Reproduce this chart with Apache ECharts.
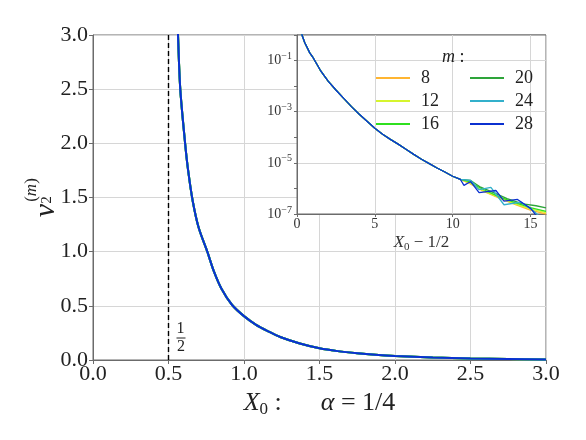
<!DOCTYPE html>
<html>
<head>
<meta charset="utf-8">
<script src="https://cdn.jsdelivr.net/npm/echarts@6/dist/echarts.min.js"></script>
<style>html,body{margin:0;padding:0;background:#fff}#c{width:586px;height:440px}</style>
</head>
<body>
<div id="c"></div>
<script>
// ---- data ----
const mValues = ['8', '12', '16', '20', '24', '28'];

// main panel: nu_2^(m) versus X0 (all m overlap)
const mainX = [0.545, 0.563, 0.578, 0.61, 0.63, 0.66, 0.70, 0.757, 0.80, 0.85, 0.92, 1.0, 1.08, 1.16, 1.24, 1.37, 1.5, 1.62, 1.75, 1.87, 2.0, 2.25, 2.5, 2.75, 3.0];
const mainY = [3.8, 3.0, 2.5, 2.0, 1.75, 1.47, 1.22, 1.0, 0.82, 0.66, 0.51, 0.405, 0.325, 0.265, 0.212, 0.152, 0.108, 0.082, 0.062, 0.048, 0.037, 0.023, 0.014, 0.009, 0.005];

// inset: nu_2^(m) versus X0 - 1/2, log scale; common part
const insetX = [0.2, 0.32, 0.5, 0.82, 1.0, 1.5, 2.0, 2.5, 3.0, 3.5, 4.0, 4.5, 5.0, 5.5, 6.0, 6.5, 7.0, 7.5, 8.0, 8.5, 9.0, 9.5, 10.0, 10.5];
const insetY = [2.5, 1.0, 0.5, 0.2, 0.141, 0.0417, 0.0158, 0.00708, 0.00331, 0.00158, 7.9e-4, 4.2e-4, 2.24e-4, 1.32e-4, 8.3e-5, 5.4e-5, 3.4e-5, 2.14e-5, 1.38e-5, 9.3e-6, 6.3e-6, 4.4e-6, 3.0e-6, 2.24e-6];

// inset tails where the m curves separate
const tail8  = [[11, 1.66e-6], [12, 7.6e-7], [13, 4.2e-7], [14, 2.4e-7], [15, 1.41e-7], [16, 1.0e-7]];
const tail12 = [[11, 1.78e-6], [12, 7.9e-7], [13, 4.5e-7], [14, 2.5e-7], [15, 1.58e-7], [16, 1.12e-7]];
const tail16 = [[11, 1.9e-6], [12, 8.9e-7], [13, 4.7e-7], [14, 2.8e-7], [15, 1.78e-7], [16, 1.26e-7]];
const tail20 = [[11.16, 2.04e-6], [11.8, 1.12e-6], [12.78, 6.3e-7], [13.5, 4.0e-7], [14.5, 2.5e-7], [15.36, 2.1e-7], [16, 1.74e-7]];
const tail24 = [[11.16, 2.04e-6], [11.7, 8.9e-7], [12.46, 1.1e-6], [13.3, 2.3e-7], [14.4, 2.9e-7], [15.25, 1.26e-7], [15.5, 8.9e-8], [15.7, 6e-8]];
const tail28 = [[10.73, 1.32e-6], [11.16, 1.86e-6], [11.7, 6.8e-7], [12.78, 8.3e-7], [13.3, 3.2e-7], [14.17, 3.7e-7], [15.03, 1.62e-7], [15.36, 8.9e-8], [15.6, 5e-8]];

// tick values
const mainTicks = [0, 0.5, 1.0, 1.5, 2.0, 2.5, 3.0];
const insetXTicks = [0, 5, 10, 15];
const insetYTickExps = [-7, -5, -3, -1];

// ---- styling ----
const tails = [tail8, tail12, tail16, tail20, tail24, tail28];
const colors = ['#ffb531', '#d6f52e', '#2fe01f', '#2ea43a', '#33b0cb', '#0b30d0'];
const FONT = '"Liberation Serif", "DejaVu Serif", serif';
const TXT = '#222';
const FRAME = '#6b6b6b';
const GRIDC = '#d6d6d6';

const series = [];
mValues.forEach((m, i) => {
  series.push({
    type: 'line', name: m, xAxisIndex: 0, yAxisIndex: 0,
    data: mainX.map((x, j) => [x, mainY[j]]),
    showSymbol: false, symbol: 'none', smooth: 0.3, clip: true,
    lineStyle: { color: colors[i], width: 2 }, itemStyle: { color: colors[i] },
    z: 3 + i,
    markLine: i === 0 ? {
      silent: true, symbol: 'none', label: { show: false },
      lineStyle: { color: '#000', type: [5, 3], width: 1.4 },
      data: [{ xAxis: 0.5 }]
    } : undefined
  });
});
mValues.forEach((m, i) => {
  series.push({
    type: 'line', name: m, xAxisIndex: 1, yAxisIndex: 1,
    data: insetX.map((x, j) => [x, insetY[j]]).concat(tails[i]),
    showSymbol: false, symbol: 'none', clip: true,
    lineStyle: { color: colors[i], width: 1.3 }, itemStyle: { color: colors[i] },
    z: 20 + i
  });
});

const legendCommon = {
  orient: 'vertical', icon: 'rect', itemWidth: 34, itemHeight: 2, itemGap: 3,
  padding: 0, selectedMode: false, z: 30,
  textStyle: { fontFamily: FONT, fontSize: 18, color: TXT, lineHeight: 20, padding: [0, 0, 0, 6] }
};

const option = {
  animation: false,
  backgroundColor: '#fff',
  grid: [
    { left: 93, top: 35, right: 40, bottom: 80, show: true, borderColor: FRAME, borderWidth: 1, backgroundColor: 'transparent' },
    { left: 297, top: 35, width: 249, height: 179, show: true, borderColor: FRAME, borderWidth: 1, backgroundColor: '#fff', z: 10 }
  ],
  xAxis: [
    {
      type: 'value', gridIndex: 0, min: 0, max: 3, interval: 0.5,
      axisLine: { show: true, lineStyle: { color: FRAME } },
      axisTick: { show: true, length: 4, lineStyle: { color: FRAME } },
      axisLabel: { fontFamily: FONT, fontSize: 22, color: TXT, margin: 3,
        formatter: v => mainTicks.indexOf(v) >= 0 ? v.toFixed(1) : '' },
      splitLine: { show: true, lineStyle: { color: GRIDC, width: 1 } },
      name: '{i|X}{s|0}{n| :      }{i|α}{n| = 1/4}',
      nameLocation: 'middle', nameGap: 27,
      nameTextStyle: {
        fontFamily: FONT, color: TXT,
        rich: {
          i: { fontFamily: FONT, fontStyle: 'italic', fontSize: 26, color: TXT, lineHeight: 30 },
          n: { fontFamily: FONT, fontSize: 26, color: TXT, lineHeight: 30 },
          s: { fontFamily: FONT, fontSize: 17, color: TXT, lineHeight: 14, verticalAlign: 'bottom' }
        }
      }
    },
    {
      type: 'value', gridIndex: 1, min: 0, max: 16, interval: 5, z: 11,
      axisLine: { show: true, lineStyle: { color: FRAME } },
      axisTick: { show: true, length: 3, lineStyle: { color: FRAME } },
      axisLabel: { fontFamily: FONT, fontSize: 14, color: '#333', margin: 3, showMaxLabel: false,
        formatter: v => insetXTicks.indexOf(v) >= 0 ? String(v) : '' },
      splitLine: { show: true, lineStyle: { color: GRIDC, width: 1 } },
      name: '{i|X}{s|0}{n| − 1/2}',
      nameLocation: 'middle', nameGap: 19,
      nameTextStyle: {
        fontFamily: FONT, color: TXT,
        rich: {
          i: { fontFamily: FONT, fontStyle: 'italic', fontSize: 17, color: '#333', lineHeight: 20 },
          n: { fontFamily: FONT, fontSize: 17, color: '#333', lineHeight: 20 },
          s: { fontFamily: FONT, fontSize: 11, color: '#333', lineHeight: 10, verticalAlign: 'bottom' }
        }
      }
    }
  ],
  yAxis: [
    {
      type: 'value', gridIndex: 0, min: 0, max: 3, interval: 0.5,
      axisLine: { show: true, lineStyle: { color: FRAME } },
      axisTick: { show: true, length: 4, lineStyle: { color: FRAME } },
      axisLabel: { fontFamily: FONT, fontSize: 22, color: TXT, margin: 5,
        formatter: v => mainTicks.indexOf(v) >= 0 ? v.toFixed(1) : '' },
      splitLine: { show: true, lineStyle: { color: GRIDC, width: 1 } }
    },
    {
      type: 'log', logBase: 10, gridIndex: 1, min: 1e-7, max: 1, z: 11,
      axisLine: { show: true, lineStyle: { color: FRAME } },
      axisTick: { show: true, length: 3, lineStyle: { color: FRAME } },
      axisLabel: {
        fontFamily: FONT, fontSize: 14, color: '#333', margin: 5,
        formatter: v => {
          const e = Math.round(Math.log10(v));
          if (insetYTickExps.indexOf(e) < 0) return '';
          return '{b|10}{s|−' + (-e) + '}';
        },
        rich: {
          b: { fontFamily: FONT, fontSize: 14, color: '#333', lineHeight: 18 },
          s: { fontFamily: FONT, fontSize: 10, color: '#333', lineHeight: 9, verticalAlign: 'top' }
        }
      },
      splitLine: { show: true, lineStyle: { color: [GRIDC, 'rgba(0,0,0,0)'], width: 1 } }
    }
  ],
  legend: [
    Object.assign({ data: ['8', '12', '16'], left: 376, top: 68 }, legendCommon),
    Object.assign({ data: ['20', '24', '28'], left: 470, top: 68 }, legendCommon)
  ],
  graphic: [
    {
      type: 'text', left: 442, top: 48, z: 40,
      style: { text: '{i|m}{n| :}', rich: {
        i: { fontFamily: FONT, fontStyle: 'italic', fontSize: 18, fill: TXT },
        n: { fontFamily: FONT, fontSize: 18, fill: TXT } } }
    },
    { type: 'text', x: 180.5, y: 329, z: 40,
      style: { text: '1', fontFamily: FONT, fontSize: 16, fill: TXT, align: 'center', verticalAlign: 'middle' } },
    { type: 'line', z: 40, shape: { x1: 176.5, y1: 338, x2: 185.5, y2: 338 }, style: { stroke: TXT, lineWidth: 1 } },
    { type: 'text', x: 181, y: 347, z: 40,
      style: { text: '2', fontFamily: FONT, fontSize: 16, fill: TXT, align: 'center', verticalAlign: 'middle' } },
    {
      type: 'group', x: 53, y: 218, rotation: Math.PI / 2, z: 40,
      children: [
        { type: 'text', x: 7.5, y: -7,
          style: { text: 'ν', fontFamily: FONT, fontStyle: 'italic', fontSize: 30, fill: TXT, align: 'center', verticalAlign: 'middle' } },
        { type: 'text', x: 18, y: -6,
          style: { text: '2', fontFamily: FONT, fontSize: 15, fill: TXT, align: 'center', verticalAlign: 'middle' } },
        { type: 'text', x: 28, y: -21,
          style: { text: '{p|(}{i|m}{p|)}', align: 'center', verticalAlign: 'middle', rich: {
            p: { fontFamily: FONT, fontSize: 17, fill: TXT },
            i: { fontFamily: FONT, fontStyle: 'italic', fontSize: 17, fill: TXT } } } }
      ]
    }
  ],
  series: series
};

const chart = echarts.init(document.getElementById('c'), null, { renderer: 'canvas' });
chart.setOption(option);
</script>
</body>
</html>
